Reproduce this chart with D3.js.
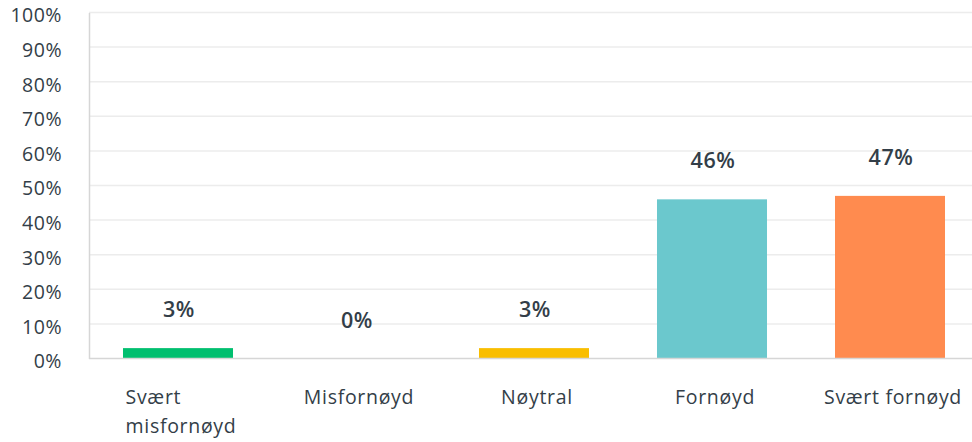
<!DOCTYPE html>
<html><head><meta charset="utf-8">
<script src="https://cdn.jsdelivr.net/npm/d3@7"></script>
<style>body{margin:0;background:#fff}</style>
</head><body>
<svg id="c" width="972" height="442"></svg>
<script>
const categories = ["Svært misfornøyd", "Misfornøyd", "Nøytral", "Fornøyd", "Svært fornøyd"];
const labelLines = [["Svært","misfornøyd"],["Misfornøyd"],["Nøytral"],["Fornøyd"],["Svært fornøyd"]];
const values = [3, 0, 3, 46, 47];
const colors = ["#00bf6f", "#00bf6f", "#f9be00", "#6bc8cd", "#ff8b4f"];
const yTicks = [0,10,20,30,40,50,60,70,80,90,100];

const svg = d3.select("#c");
const font = "'Open Sans', sans-serif";
const txt = "#333e48";
const x = d3.scaleBand().domain(categories).range([89, 979]).paddingInner(0.382).paddingOuter(0.191);
const y = d3.scaleLinear().domain([0,100]).range([358.5, 12.5]);

// gridlines
svg.append("g").selectAll("line").data(yTicks.filter(d=>d>0)).join("line")
  .attr("x1", 89).attr("x2", 972).attr("y1", d=>y(d)).attr("y2", d=>y(d))
  .attr("stroke", "#ececec").attr("stroke-width", 1.5);

// y axis
const ya = svg.append("g").attr("transform","translate(89,0)")
  .call(d3.axisLeft(y).tickValues(yTicks).tickFormat(d=>d+"%").tickSize(0).tickPadding(27));
ya.select(".domain").attr("stroke","#d6d6d6").attr("stroke-width",1.5);
ya.selectAll("text").attr("font-family", font).attr("font-size", 19.5).attr("fill", txt)
  .attr("dy", "0.48em").attr("letter-spacing", 0.5);

// bars
svg.append("g").selectAll("rect").data(values).join("rect")
  .attr("x", (d,i)=>x(categories[i])).attr("width", x.bandwidth())
  .attr("y", d=>y(d)).attr("height", d=>y(0)-y(d))
  .attr("fill", (d,i)=>colors[i]);

// bottom axis line
svg.append("line").attr("x1",89).attr("x2",972).attr("y1",y(0)).attr("y2",y(0))
  .attr("stroke","#d6d6d6").attr("stroke-width",1.5);

// value labels
svg.append("g").selectAll("text").data(values).join("text")
  .attr("x", (d,i)=>x(categories[i]) + x.bandwidth()/2 + 1)
  .attr("y", d=>y(d) - 31)
  .attr("text-anchor","middle").attr("font-family", font).attr("font-weight", 600)
  .attr("font-size", 21.5).attr("fill", txt).attr("letter-spacing", 0.6).text(d=>d+"%");

// x labels
const xl = svg.append("g");
categories.forEach((c,i)=>{
  const cx = x(c) + x.bandwidth()/2 + 3;
  const g = xl.append("text").attr("font-family", font).attr("font-size", 19.5).attr("fill", txt)
    .attr("letter-spacing", 0.7);
  labelLines[i].forEach((l,j)=>{
    g.append("tspan").attr("x", 0).attr("y", 404 + j*29).text(l);
  });
  const w = g.node().getBBox().width;
  g.selectAll("tspan").attr("x", cx - w/2);
});
</script>
</body></html>
